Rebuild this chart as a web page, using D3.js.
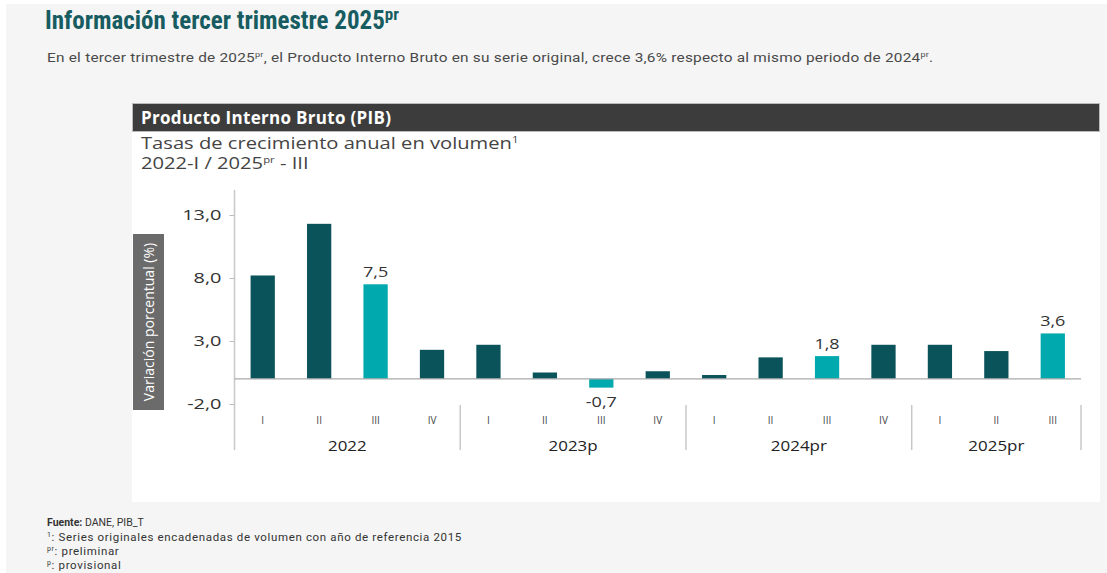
<!DOCTYPE html>
<html><head><meta charset="utf-8">
<script src="https://cdn.jsdelivr.net/npm/d3@7"></script>
<style>
html,body{margin:0;padding:0;background:#fff;}
svg{display:block;}
</style></head>
<body>
<script>
const quarters = ["I","II","III","IV","I","II","III","IV","I","II","III","IV","I","II","III"];
const years = ["2022","2023p","2024pr","2025pr"];
const yearOf = [0,0,0,0,1,1,1,1,2,2,2,2,3,3,3];
const values = [8.2,12.3,7.5,2.3,2.7,0.5,-0.7,0.6,0.3,1.7,1.8,2.7,2.7,2.2,3.6];
const highlighted = [false,false,true,false,false,false,true,false,false,false,true,false,false,false,true];
const yTicks = [-2,3,8,13];

const fmt = d => d3.format(".1f")(d).replace(".",",").replace("\u2212","-");

const W=1107,H=573;
const svg=d3.select("body").append("svg").attr("width",W).attr("height",H);
svg.append("rect").attr("x",6).attr("y",4).attr("width",W-6).attr("height",H-4).attr("fill","#f5f5f5");

// page title
const t=svg.append("text").attr("x",45).attr("y",29)
  .attr("font-family","'Liberation Sans Narrow','Roboto Condensed',Roboto,sans-serif")
  .attr("font-weight",700).attr("font-size",25).attr("fill","#175c61");
t.append("tspan").text("Información tercer trimestre 2025");
t.append("tspan").attr("font-size",17).attr("dy",-9).text("pr");

const p=svg.append("text").attr("transform","translate(47,62) scale(1.14,1)").attr("font-family","Roboto,sans-serif")
  .attr("font-size",13.5).attr("letter-spacing",0.2).attr("fill","#4a4a4a");
p.append("tspan").text("En el tercer trimestre de 2025");
p.append("tspan").attr("font-size",8).attr("dy",-5).text("pr");
p.append("tspan").attr("dy",5).text(", el Producto Interno Bruto en su serie original, crece 3,6% respecto al mismo periodo de 2024");
p.append("tspan").attr("font-size",8).attr("dy",-5).text("pr");
p.append("tspan").attr("dy",5).text(".");

// chart panel
svg.append("rect").attr("x",132).attr("y",103).attr("width",968).attr("height",399).attr("fill","#fff");
svg.append("rect").attr("x",132.5).attr("y",103.5).attr("width",967).attr("height",28).attr("fill","#3c3c3c").attr("stroke","#bbb").attr("stroke-width",1);
svg.append("text").attr("x",141).attr("y",124).attr("font-family","'Open Sans',sans-serif")
  .attr("font-weight",700).attr("font-size",17).attr("letter-spacing",0.3).attr("fill","#fff").text("Producto Interno Bruto (PIB)");
const s1=svg.append("text").attr("transform","translate(141,149) scale(1.26,1)").attr("font-family","'Open Sans',sans-serif")
  .attr("font-size",16).attr("fill","#444");
s1.append("tspan").text("Tasas de crecimiento anual en volumen");
s1.append("tspan").attr("font-size",9).attr("dy",-6).text("1");
const s2=svg.append("text").attr("transform","translate(141,169) scale(1.26,1)").attr("font-family","'Open Sans',sans-serif")
  .attr("font-size",16).attr("fill","#444");
s2.append("tspan").text("2022-I / 2025");
s2.append("tspan").attr("font-size",9).attr("dy",-6).text("pr");
s2.append("tspan").attr("dy",6).text(" - III");

// scales
const x=d3.scaleBand().domain(d3.range(values.length)).range([234.5,1081]).paddingInner(0.57).paddingOuter(0.285);
const y=d3.scaleLinear().domain([-2,13]).range([404,215]);

// y axis
const ya=svg.append("g").attr("transform","translate(234.5,0)")
  .call(d3.axisLeft(y).tickValues(yTicks).tickSize(5).tickPadding(8).tickFormat(fmt));
ya.select(".domain").remove();
ya.selectAll("line").attr("stroke","#bbb");
ya.selectAll("text").attr("font-family","'Open Sans',sans-serif").attr("font-size",15).attr("fill","#333")
  .attr("x",-13/1.33).attr("transform","scale(1.33,1)");
svg.append("line").attr("x1",234.5).attr("x2",234.5).attr("y1",190).attr("y2",450).attr("stroke","#c8c8c8").attr("stroke-width",1.5);

// y title box
svg.append("rect").attr("x",133).attr("y",234).attr("width",31).attr("height",176).attr("fill","#6b6b6b");
svg.append("text").attr("transform","translate(154,322) rotate(-90)").attr("text-anchor","middle")
  .attr("font-family","'Open Sans',sans-serif").attr("font-size",14).attr("fill","#fff").text("Variación porcentual (%)");

// bars
svg.append("g").selectAll("rect").data(values).join("rect")
  .attr("x",(d,i)=>x(i)).attr("width",x.bandwidth())
  .attr("y",d=>y(Math.max(0,d))).attr("height",d=>Math.abs(y(d)-y(0)))
  .attr("fill",(d,i)=>highlighted[i]?"#00a9ad":"#0a535b");

// zero line
svg.append("line").attr("x1",234.5).attr("x2",1081).attr("y1",y(0)).attr("y2",y(0)).attr("stroke","#aaa").attr("stroke-width",1.2);

// labels
svg.append("g").selectAll("text").data(values.map((v,i)=>({v,i})).filter(d=>highlighted[d.i])).join("text")
  .attr("transform",d=>`translate(${x(d.i)+x.bandwidth()/2},${d.v>=0?y(d.v)-7:y(d.v)+19}) scale(1.2,1)`)
  .attr("text-anchor","middle").attr("font-family","'Open Sans',sans-serif").attr("font-size",15).attr("fill","#333")
  .text(d=>fmt(d.v));

// quarter labels
svg.append("g").selectAll("text").data(quarters).join("text")
  .attr("x",(d,i)=>x(i)+x.bandwidth()/2).attr("y",424).attr("text-anchor","middle")
  .attr("font-family","'Open Sans',sans-serif").attr("font-size",10).attr("fill","#444").text(d=>d);

// year groups
const step=x.step();
const groups=years.map((yr,g)=>{const idx=d3.range(values.length).filter(i=>yearOf[i]===g);return {yr,first:idx[0],last:idx[idx.length-1]};});
svg.append("g").selectAll("text").data(groups).join("text")
  .attr("transform",d=>`translate(${(x(d.first)+x(d.last)+x.bandwidth())/2},451) scale(1.13,1)`).attr("text-anchor","middle")
  .attr("font-family","'Open Sans',sans-serif").attr("font-size",15).attr("fill","#222").text(d=>d.yr);
svg.append("g").selectAll("line").data(groups).join("line")
  .attr("x1",d=>x(d.last)+x.bandwidth()/2+step/2).attr("x2",d=>x(d.last)+x.bandwidth()/2+step/2)
  .attr("y1",405).attr("y2",450).attr("stroke","#c8c8c8").attr("stroke-width",1.5);

// footnotes
const fn=svg.append("g").attr("font-family","Roboto,sans-serif").attr("font-size",11.5).attr("fill","#333");
const f1=fn.append("text").attr("x",47).attr("y",526).attr("font-size",10.5);
f1.append("tspan").attr("font-weight",700).text("Fuente:");
f1.append("tspan").text(" DANE, PIB_T");
const f2=fn.append("text").attr("x",47).attr("y",541).attr("letter-spacing",0.65);
f2.append("tspan").attr("font-size",7).attr("dy",-4).text("1");
f2.append("tspan").attr("dy",4).text(": Series originales encadenadas de volumen con año de referencia 2015");
const f3=fn.append("text").attr("x",47).attr("y",555).attr("letter-spacing",0.65);
f3.append("tspan").attr("font-size",7).attr("dy",-4).text("pr");
f3.append("tspan").attr("dy",4).text(": preliminar");
const f4=fn.append("text").attr("x",47).attr("y",569).attr("letter-spacing",0.65);
f4.append("tspan").attr("font-size",7).attr("dy",-4).text("p");
f4.append("tspan").attr("dy",4).text(": provisional");
</script>
</body></html>
